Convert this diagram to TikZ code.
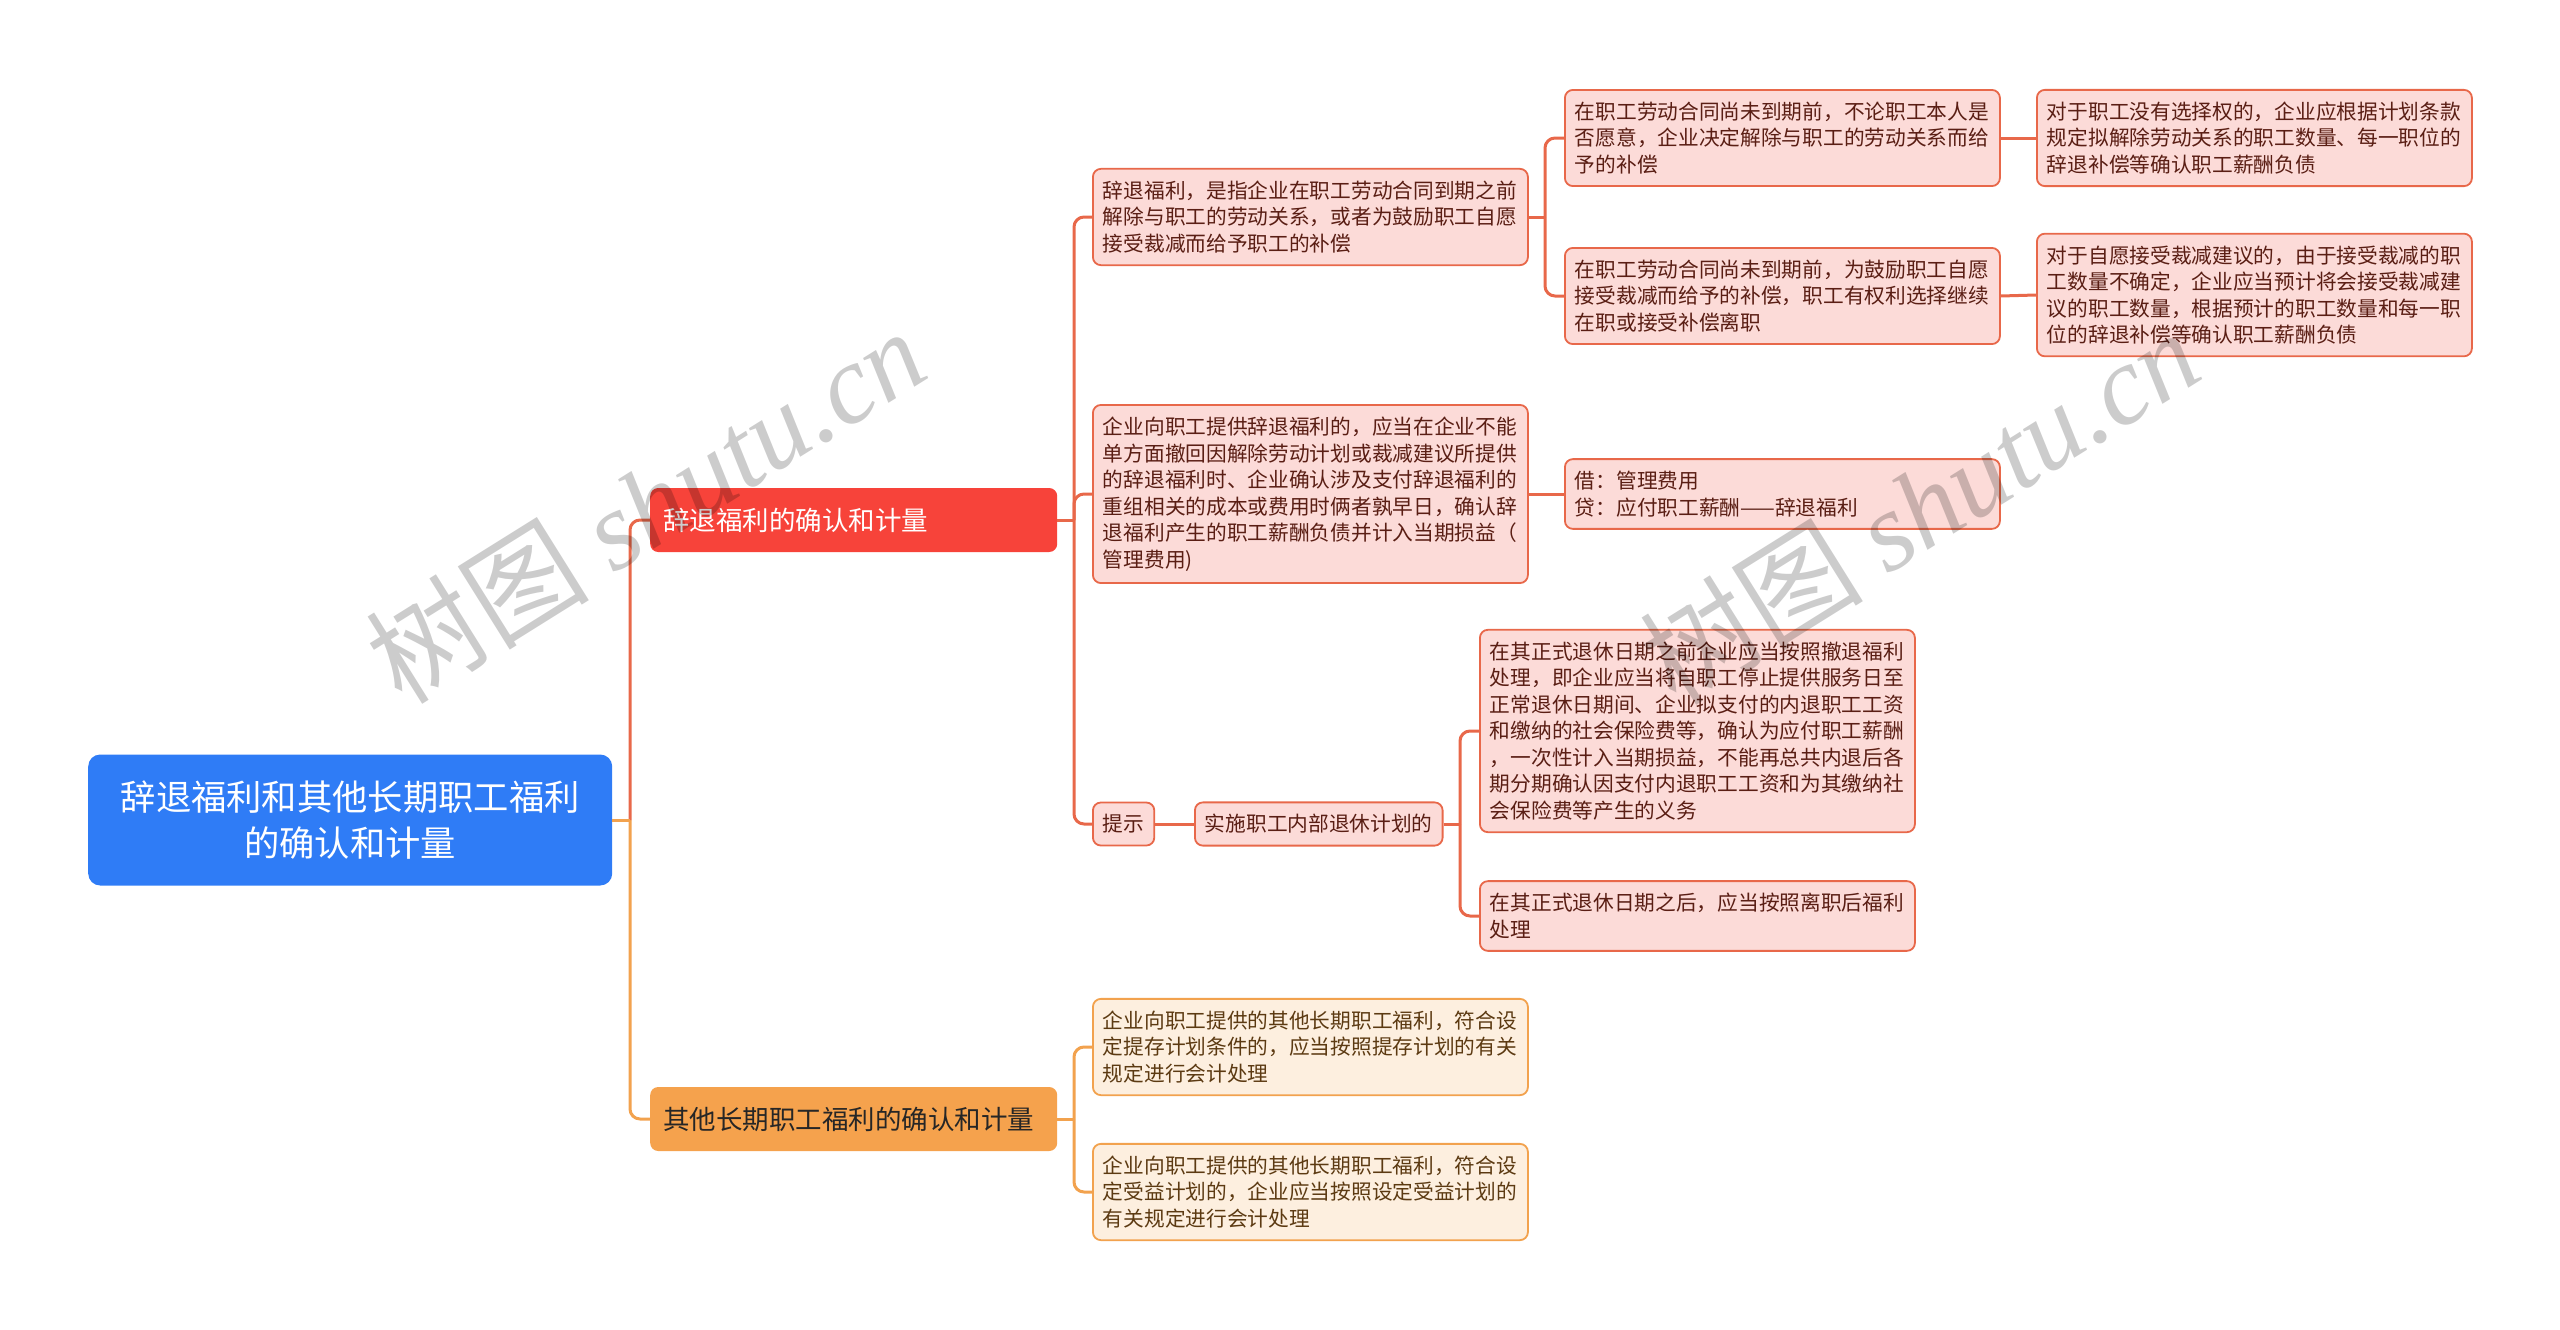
\documentclass[tikz,border=0pt]{standalone}
\usepackage{fontspec}
\setmainfont{Noto Sans CJK SC}
\newfontfamily\wmfont{Liberation Serif}
\usepackage{tikz}
\usetikzlibrary{calc}
\definecolor{rootblue}{HTML}{2F7CF6}
\definecolor{qtred}{HTML}{F7433A}
\definecolor{qtorg}{HTML}{F5A24D}
\definecolor{redfill}{HTML}{FCDBD8}
\definecolor{redline}{HTML}{E8684A}
\definecolor{redtext}{HTML}{5A1E14}
\definecolor{orgfill}{HTML}{FDEFDF}
\definecolor{orgline}{HTML}{F2A24E}
\definecolor{orgtext}{HTML}{5C3A12}

\begin{document}
\begin{tikzpicture}[x=1pt,y=-1pt,
rootbox/.style={fill=rootblue,text=white,rounded corners=12pt,anchor=west,align=center,text width=500pt,inner xsep=12pt,minimum height=131pt,font=\fontsize{35.3}{46}\selectfont},
qtbox/.style={rounded corners=8pt,anchor=west,align=left,text width=381pt,inner xsep=13pt,minimum height=64pt,font=\fontsize{26.5}{32}\selectfont},
redbox/.style={draw=redline,fill=redfill,text=redtext,line width=1.8pt,rounded corners=8pt,anchor=west,align=left,inner xsep=10pt,inner ysep=12pt,font=\fontsize{20.7}{26.5}\selectfont},
orgbox/.style={redbox,draw=orgline,fill=orgfill,text=orgtext},
wide/.style={text width=415pt},
redln/.style={draw=redline,line width=3pt},
orgln/.style={draw=orgline,line width=3pt},
wmark/.style={rotate=32,opacity=0.2,font=\fontsize{112}{112}\selectfont}]
\useasboundingbox (0,0) rectangle (2560,1330);
\node[rootbox] (root) at (88,820) {辞退福利和其他长期职工福利\\的确认和计量};
\node[qtbox,fill=qtred,text=white] (qt) at (650,520) {辞退福利的确认和计量};
\node[qtbox,fill=qtorg,text=black!85] (qt2) at (650,1119) {其他长期职工福利的确认和计量};
\node[redbox,wide] (def) at (1092,217) {辞退福利，是指企业在职工劳动合同到期之前\\解除与职工的劳动关系，或者为鼓励职工自愿\\接受裁减而给予职工的补偿};
\node[redbox,wide] (def1) at (1564,138) {在职工劳动合同尚未到期前，不论职工本人是\\否愿意，企业决定解除与职工的劳动关系而给\\予的补偿};
\node[redbox,wide] (def2) at (1564,296) {在职工劳动合同尚未到期前，为鼓励职工自愿\\接受裁减而给予的补偿，职工有权利选择继续\\在职或接受补偿离职};
\node[redbox,wide] (def1a) at (2036,138) {对于职工没有选择权的，企业应根据计划条款\\规定拟解除劳动关系的职工数量、每一职位的\\辞退补偿等确认职工薪酬负债};
\node[redbox,wide] (def2a) at (2036,295) {对于自愿接受裁减建议的，由于接受裁减的职\\工数量不确定，企业应当预计将会接受裁减建\\议的职工数量，根据预计的职工数量和每一职\\位的辞退补偿等确认职工薪酬负债};
\node[redbox,wide] (rec) at (1092,494) {企业向职工提供辞退福利的，应当在企业不能\\单方面撤回因解除劳动计划或裁减建议所提供\\的辞退福利时、企业确认涉及支付辞退福利的\\重组相关的成本或费用时俩者孰早日，确认辞\\退福利产生的职工薪酬负债并计入当期损益（\\管理费用)};
\node[redbox,wide] (entry) at (1564,494) {借：管理费用\\贷：应付职工薪酬——辞退福利};
\node[redbox] (tip) at (1092,824) {提示};
\node[redbox] (ret) at (1194,824) {实施职工内部退休计划的};
\node[redbox,wide] (ret1) at (1479,731) {在其正式退休日期之前企业应当按照撤退福利\\处理，即企业应当将自职工停止提供服务日至\\正常退休日期间、企业拟支付的内退职工工资\\和缴纳的社会保险费等，确认为应付职工薪酬\\，一次性计入当期损益，不能再总共内退后各\\期分期确认因支付内退职工工资和为其缴纳社\\会保险费等产生的义务};
\node[redbox,wide] (ret2) at (1479,916) {在其正式退休日期之后，应当按照离职后福利\\处理};
\node[orgbox,wide] (dc) at (1092,1047) {企业向职工提供的其他长期职工福利，符合设\\定提存计划条件的，应当按照提存计划的有关\\规定进行会计处理};
\node[orgbox,wide] (db) at (1092,1192) {企业向职工提供的其他长期职工福利，符合设\\定受益计划的，企业应当按照设定受益计划的\\有关规定进行会计处理};
\coordinate (rj) at (630,820);
\coordinate (qtj) at (1074,520);
\coordinate (defj) at (1545,217);
\coordinate (retj) at (1460,824);
\coordinate (qt2j) at (1074,1119);
\draw[orgln,rounded corners=10pt] (rj) |- (qt2.west);
\draw[redln,rounded corners=10pt] (rj) |- (qt.west);
\draw[orgln] (root.east) -- (rj);
\draw[redln] (qt.east) -- (qtj);
\draw[redln,rounded corners=10pt] (qtj) |- (def.west);
\draw[redln,rounded corners=10pt] (qtj) |- (rec.west);
\draw[redln,rounded corners=10pt] (qtj) |- (tip.west);
\draw[redln] (def.east) -- (defj);
\draw[redln,rounded corners=10pt] (defj) |- (def1.west);
\draw[redln,rounded corners=10pt] (defj) |- (def2.west);
\draw[redln] (def1.east) -- (def1a.west);
\draw[redln] (def2.east) -- (def2a.west);
\draw[redln] (rec.east) -- (entry.west);
\draw[redln] (tip.east) -- (ret.west);
\draw[redln] (ret.east) -- (retj);
\draw[redln,rounded corners=10pt] (retj) |- (ret1.west);
\draw[redln,rounded corners=10pt] (retj) |- (ret2.west);
\draw[orgln] (qt2.east) -- (qt2j);
\draw[orgln,rounded corners=10pt] (qt2j) |- (dc.west);
\draw[orgln,rounded corners=10pt] (qt2j) |- (db.west);
\node[wmark] (wm1) at (645,505) {树图 {\wmfont\itshape shutu.cn}};
\node[wmark] (wm2) at (1919,506) {树图 {\wmfont\itshape shutu.cn}};
\end{tikzpicture}
\end{document}
